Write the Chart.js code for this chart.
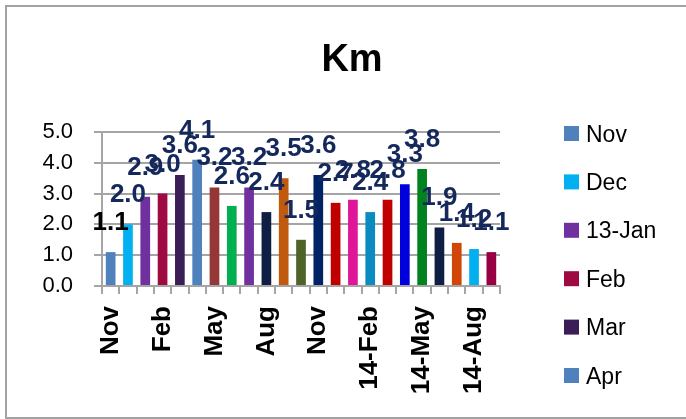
<!DOCTYPE html>
<html>
<head>
<meta charset="utf-8">
<script src="https://cdn.jsdelivr.net/npm/chart.js@4/dist/chart.umd.min.js"></script>
<style>
  html, body { margin: 0; padding: 0; background: #ffffff; overflow: hidden; }
  #wrap { position: relative; width: 686px; height: 419px; }
  #frame { position: absolute; left: 5px; top: 5px; width: 720px; height: 410px;
           border: 2px solid #a3a3a3; box-sizing: content-box; }
  #c { position: absolute; left: 0; top: 0; }
</style>
</head>
<body>
<div id="wrap">
  <div id="frame"></div>
  <canvas id="c" width="686" height="419"></canvas>
</div>
<script>
// Monthly distance, Nov 2012 – Sep 2014
const chartTitle = 'Km';
const categories = ['Nov', 'Dec', '13-Jan', 'Feb', 'Mar', 'Apr', 'May', 'Jun', 'Jul', 'Aug', 'Sep', 'Oct',
                    'Nov', 'Dec', '14-Jan', '14-Feb', 'Mar', 'Apr', '14-May', 'Jun', 'Jul', '14-Aug', 'Sep'];
const kmValues = [1.1, 2.0, 2.9, 3.0, 3.6, 4.1, 3.2, 2.6, 3.2, 2.4, 3.5, 1.5,
                  3.6, 2.7, 2.8, 2.4, 2.8, 3.3, 3.8, 1.9, 1.4, 1.2, 1.1];
const barColors = ['#4F81BD', '#00B0F0', '#7030A0', '#9E0B43', '#3C1E57', '#4F81BD', '#953735', '#00B050',
                   '#7030A0', '#0F1F44', '#C05A0E', '#4F6228', '#002366', '#C00000', '#E0169A', '#0A8CC0',
                   '#C00000', '#0000DD', '#00821E', '#0F1F44', '#D14508', '#00B0F0', '#990044'];
const yTicks = [0, 1, 2, 3, 4, 5];
const xLabelStep = 3;

// Title centred on the framed chart
const titlePlugin = {
  id: 'kmTitle',
  afterDraw(chart) {
    const ctx = chart.ctx;
    ctx.save();
    ctx.font = 'bold 38px "Liberation Sans", Arial, sans-serif';
    ctx.fillStyle = '#000000';
    ctx.textAlign = 'center';
    ctx.textBaseline = 'alphabetic';
    ctx.fillText(chartTitle, 352, 71);
    ctx.restore();
  }
};

// Value labels above each bar
const valueLabels = {
  id: 'valueLabels',
  afterDatasetsDraw(chart) {
    const ctx = chart.ctx;
    const meta = chart.getDatasetMeta(0);
    const data = chart.data.datasets[0].data;
    ctx.save();
    ctx.font = 'bold 26px "Liberation Sans", Arial, sans-serif';
    ctx.textAlign = 'center';
    ctx.textBaseline = 'alphabetic';
    meta.data.forEach((bar, i) => {
      ctx.fillStyle = i === 0 ? '#000000' : '#14285C';
      ctx.fillText(Number(data[i]).toFixed(1), bar.x, bar.y - 22);
    });
    ctx.restore();
  }
};

// Legend column on the right, one entry per category while space remains
const sideLegend = {
  id: 'sideLegend',
  afterDraw(chart) {
    const ctx = chart.ctx;
    ctx.save();
    ctx.font = '23px "Liberation Sans", Arial, sans-serif';
    ctx.textAlign = 'left';
    ctx.textBaseline = 'alphabetic';
    chart.data.labels.forEach((lab, i) => {
      const top = 126 + i * 48.4;
      if (top + 24 > chart.height - 10) return;
      ctx.fillStyle = barColors[i];
      ctx.fillRect(564, top, 15, 15);
      ctx.fillStyle = '#000000';
      ctx.fillText(lab, 586, top + 15.5);
    });
    ctx.restore();
  }
};

new Chart(document.getElementById('c'), {
  type: 'bar',
  data: {
    labels: categories,
    datasets: [{
      label: chartTitle,
      data: kmValues,
      backgroundColor: barColors,
      borderWidth: 0,
      barPercentage: 0.56,
      categoryPercentage: 1.0
    }]
  },
  options: {
    responsive: false,
    animation: false,
    devicePixelRatio: 1,
    layout: { padding: { left: 40, right: 186, top: 132, bottom: 0 } },
    plugins: {
      legend: { display: false },
      title: { display: false },
      tooltip: { enabled: false }
    },
    scales: {
      x: {
        offset: true,
        afterFit(scale) { scale.height = 133; },
        grid: {
          display: true,
          drawOnChartArea: false,
          drawTicks: true,
          tickLength: 8,
          color: '#a5a5a5',
          lineWidth: 2,
          offset: true
        },
        border: { display: true, color: '#a5a5a5', width: 2 },
        ticks: {
          autoSkip: false,
          maxRotation: 90,
          minRotation: 90,
          padding: 12,
          color: '#000000',
          font: { family: '"Liberation Sans", Arial, sans-serif', size: 26, weight: 'bold' },
          callback: (v, i) => (i % xLabelStep === 0 ? categories[i] : '')
        }
      },
      y: {
        min: yTicks[0],
        max: yTicks[yTicks.length - 1],
        afterFit(scale) { scale.width = 62; },
        afterBuildTicks(scale) { scale.ticks = yTicks.map(v => ({ value: v })); },
        grid: {
          color: '#a5a5a5',
          lineWidth: 2,
          drawTicks: true,
          tickLength: 8
        },
        border: { display: true, color: '#a5a5a5', width: 2 },
        ticks: {
          padding: 21,
          color: '#000000',
          font: { family: '"Liberation Sans", Arial, sans-serif', size: 22 },
          callback: v => Number(v).toFixed(1)
        }
      }
    }
  },
  plugins: [titlePlugin, valueLabels, sideLegend]
});
</script>
</body>
</html>
